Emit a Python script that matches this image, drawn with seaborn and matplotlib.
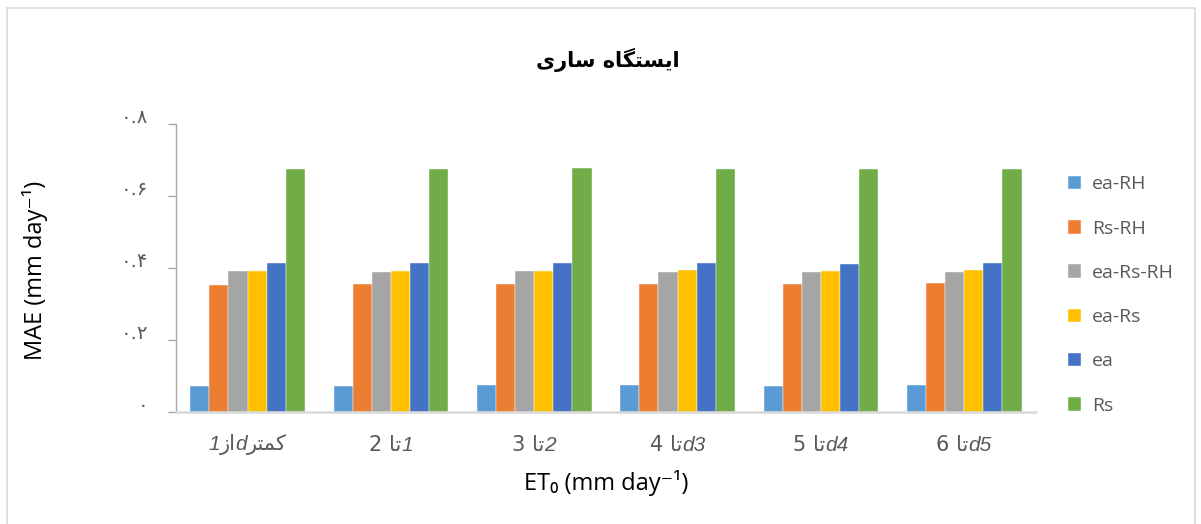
import matplotlib
matplotlib.use("Agg")
import matplotlib.pyplot as plt
from matplotlib.patches import Rectangle
from matplotlib.transforms import ScaledTranslation
from matplotlib.offsetbox import TextArea, HPacker, AnnotationBbox
import seaborn as sns
import pandas as pd

# ---- data -------------------------------------------------------------
categories = ["کمتر از 1", "1 تا 2", "2 تا 3", "3 تا 4", "4 تا 5", "5 تا 6"]
series = ["ea-RH", "Rs-RH", "ea-Rs-RH", "ea-Rs", "ea", "Rs"]
ea_RH    = [0.072, 0.072, 0.073, 0.073, 0.072, 0.073]
Rs_RH    = [0.352, 0.354, 0.355, 0.354, 0.356, 0.358]
ea_Rs_RH = [0.390, 0.389, 0.390, 0.388, 0.388, 0.388]
ea_Rs    = [0.390, 0.391, 0.392, 0.394, 0.392, 0.395]
ea       = [0.413, 0.413, 0.413, 0.414, 0.412, 0.414]
Rs       = [0.674, 0.675, 0.677, 0.674, 0.675, 0.674]
y_ticks = [0.0, 0.2, 0.4, 0.6, 0.8]
y_tick_labels = ["۰", "۰.۲", "۰.۴", "۰.۶", "۰.۸"]
title_text = "ایستگاه ساری"
palette = ["#5B9BD5", "#ED7D31", "#A5A5A5", "#FFC000", "#4472C4", "#70AD47"]

# ---- minimal Persian shaping (presentation forms, visual order) ---------
FORMS = {
    "\u0627": ("\uFE8D", "\uFE8E", None, None),
    "\u0632": ("\uFEAF", "\uFEB0", None, None),
    "\u0631": ("\uFEAD", "\uFEAE", None, None),
    "\u062A": ("\uFE95", "\uFE96", "\uFE97", "\uFE98"),
    "\u0633": ("\uFEB1", "\uFEB2", "\uFEB3", "\uFEB4"),
    "\u0645": ("\uFEE1", "\uFEE2", "\uFEE3", "\uFEE4"),
    "\u0647": ("\uFEE9", "\uFEEA", "\uFEEB", "\uFEEC"),
    "\u06A9": ("\uFB8E", "\uFB8F", "\uFB90", "\uFB91"),
    "\u06AF": ("\uFB92", "\uFB93", "\uFB94", "\uFB95"),
    "\u06CC": ("\uFBFC", "\uFBFD", "\uFBFE", "\uFBFF"),
}


def shape_rtl(text):
    out = []
    for i, ch in enumerate(text):
        if ch not in FORMS:
            out.append(ch)
            continue
        prev = text[i - 1] if i > 0 else ""
        nxt = text[i + 1] if i + 1 < len(text) else ""
        join_prev = prev in FORMS and FORMS[prev][2] is not None
        join_next = FORMS[ch][2] is not None and nxt in FORMS
        iso, fin, ini, med = FORMS[ch]
        if join_prev and join_next:
            out.append(med)
        elif join_prev:
            out.append(fin)
        elif join_next:
            out.append(ini)
        else:
            out.append(iso)
    return "".join(out)[::-1]


# pieces of each category label, left to right: (text, italic)
ta = shape_rtl("تا")
label_pieces = [
    [("1", True), (shape_rtl("از"), False), ("d", True), (shape_rtl("کمتر"), False)],
    [("2 ", False), (ta, False), ("1", True)],
    [("3 ", False), (ta, False), ("2", True)],
    [("4 ", False), (ta, False), ("d3", True)],
    [("5 ", False), (ta, False), ("d4", True)],
    [("6 ", False), (ta, False), ("d5", True)],
]

df = pd.DataFrame({
    "cat": [c for _ in series for c in categories],
    "series": [s for s in series for _ in categories],
    "val": ea_RH + Rs_RH + ea_Rs_RH + ea_Rs + ea + Rs,
})

# ---- figure -----------------------------------------------------------
sns.set_theme(style="white")
plt.rcParams["font.family"] = ["Open Sans", "DejaVu Sans"]

fig = plt.figure(figsize=(12.01, 5.24), dpi=100)
ax = fig.add_axes([0.1465, 0.2143, 0.716, 0.5491])

sns.barplot(data=df, x="cat", y="val", hue="series", order=categories,
            hue_order=series, palette=palette, width=0.8, saturation=1,
            edgecolor="white", linewidth=0.3, ax=ax)

ax.set_xlim(-0.5, len(categories) - 0.5)
ax.set_ylim(0, 0.8)
ax.set_yticks(y_ticks)
ax.set_yticklabels(y_tick_labels, family="DejaVu Sans", color="#595959",
                   fontsize=14)
ax.tick_params(axis="y", direction="out", length=6, width=1,
               color="#A6A6A6", pad=14, left=True)
# tick labels sit a little above their tick marks
lift = ScaledTranslation(0, 6 / 72, fig.dpi_scale_trans)
for lbl in ax.get_yticklabels():
    lbl.set_transform(lbl.get_transform() + lift)
ax.tick_params(axis="x", length=0)
ax.set_xticks(range(len(categories)))
ax.set_xticklabels([""] * len(categories))
ax.set_xlabel("")
ax.set_ylabel("")

for side in ("top", "right"):
    ax.spines[side].set_visible(False)
ax.spines["left"].set_color("#A6A6A6")
ax.spines["left"].set_linewidth(1.0)
ax.spines["bottom"].set_color("#D9D9D9")
ax.spines["bottom"].set_linewidth(1.8)

# category labels built from mixed upright / italic pieces
for i, pieces in enumerate(label_pieces):
    areas = []
    for txt, ital in pieces:
        areas.append(TextArea(txt, textprops=dict(
            color="#595959", fontsize=15,
            style="italic" if ital else "normal",
            family=["Liberation Sans", "DejaVu Sans"] if ital else ["DejaVu Sans"])))
    pack = HPacker(children=areas, pad=0, sep=0, align="baseline")
    ab = AnnotationBbox(pack, (i, -0.115), xycoords=ax.get_xaxis_transform(),
                        box_alignment=(0.5, 0.5), frameon=False, pad=0,
                        annotation_clip=False)
    ax.add_artist(ab)

# axis titles
fig.text(35 / 1201, 1 - 270 / 524, "MAE (mm day⁻¹)", fontsize=17,
         rotation=90, ha="center", va="center", color="black")
fig.text(0.505, 1 - 483 / 524, "ET₀ (mm day⁻¹)", fontsize=17,
         ha="center", va="center", color="black")

# chart title
fig.text(0.506, 1 - 60 / 524, shape_rtl(title_text), fontsize=15,
         fontweight="bold", family="DejaVu Sans", ha="center", va="center",
         color="black")

# legend
handles, labels = ax.get_legend_handles_labels()
if ax.legend_:
    ax.legend_.remove()
fig.legend(handles, labels, loc="center left",
           bbox_to_anchor=(0.889, 1 - 295 / 524), frameon=False,
           fontsize=14, labelcolor="#595959", handlelength=0.7,
           handleheight=0.7, handletextpad=0.55, labelspacing=1.35,
           borderpad=0, borderaxespad=0)

# outer chart border
fig.patches.append(Rectangle((7 / 1201, -0.02), 1188 / 1201, 1.02 - 8 / 524,
                             transform=fig.transFigure, fill=False,
                             edgecolor="#D9D9D9", linewidth=1.2))

fig.savefig("out.png", dpi=100, facecolor="white")
